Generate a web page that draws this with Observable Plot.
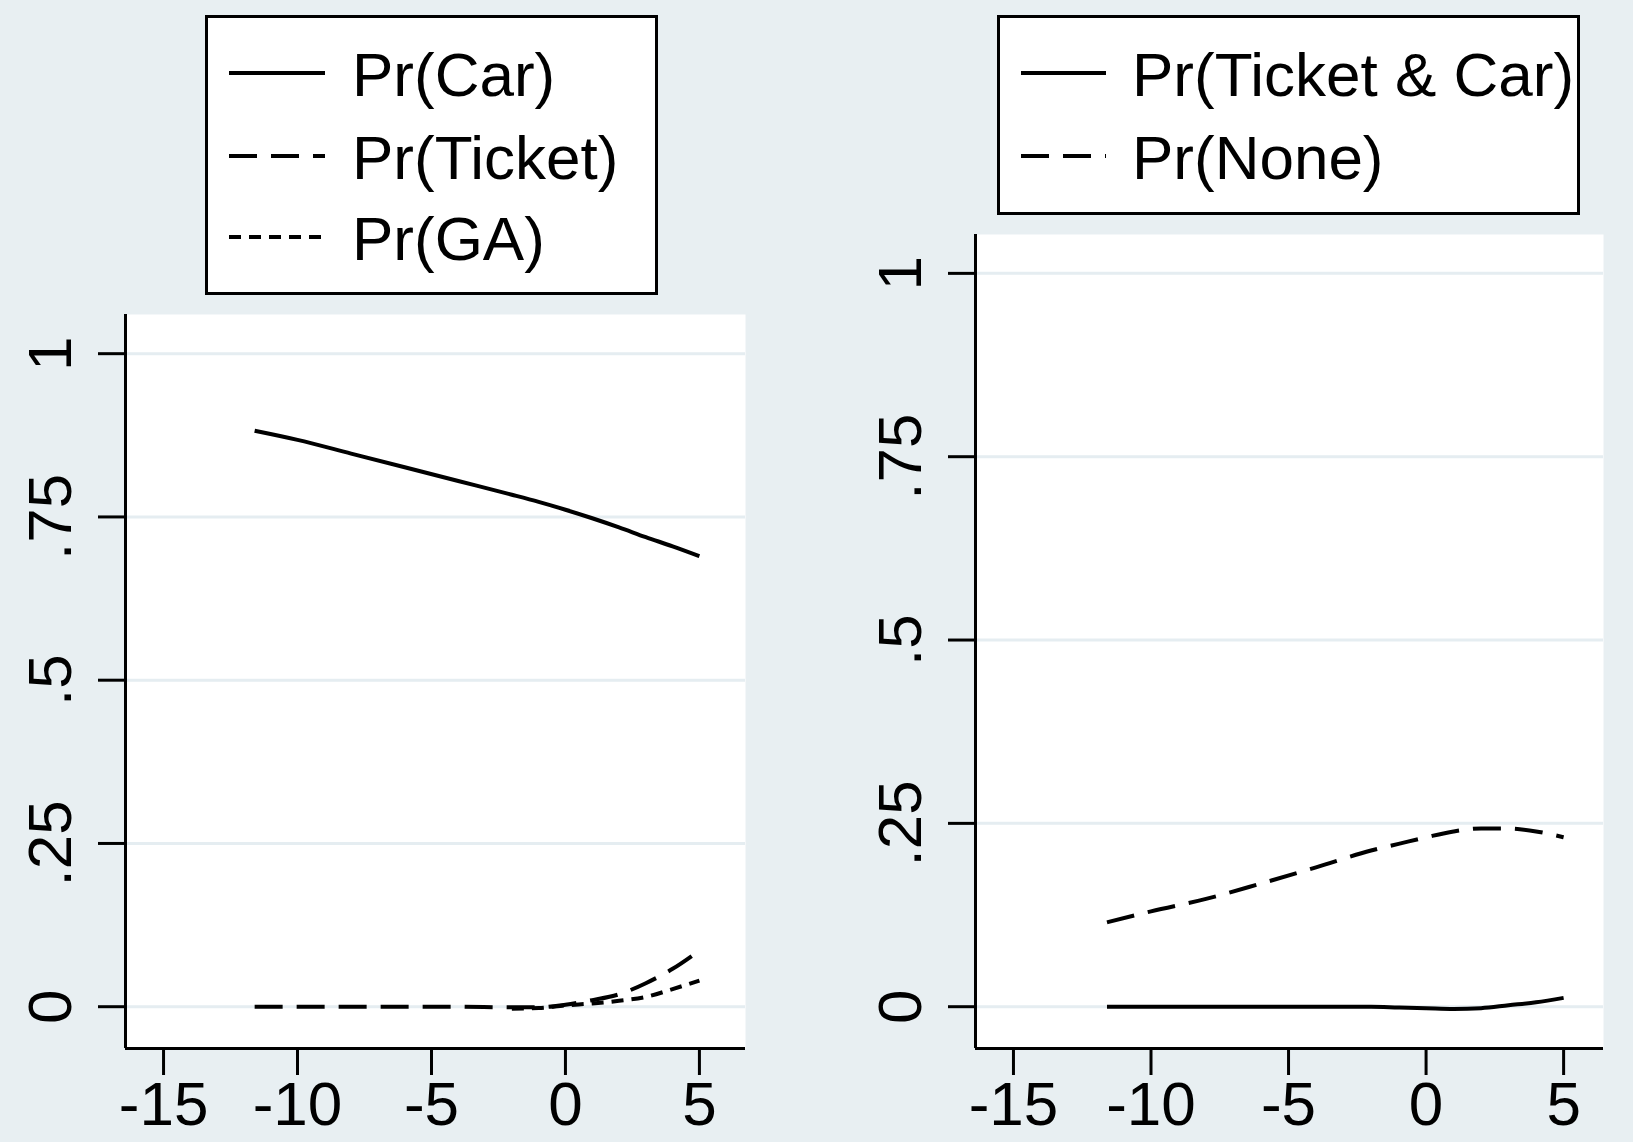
<!DOCTYPE html>
<html><head><meta charset="utf-8">
<script src="https://cdn.jsdelivr.net/npm/d3@7"></script>
<script src="https://cdn.jsdelivr.net/npm/@observablehq/plot@0.6"></script>
<style>
html,body{margin:0;padding:0;background:#e8eff2;}
#root{position:relative;width:1633px;height:1142px;background:#e8eff2;overflow:hidden;font-family:"Liberation Sans",Arial,sans-serif;}
.panel{position:absolute;}
.legend{position:absolute;}
</style></head><body><div id="root"></div>
<script>
// ---- data ----
const xValues      = [-11.6, -10, -8, -6, -4, -2, -1, 0, 1, 2, 3, 4, 5];
const prCar        = [0.882, 0.868, 0.847, 0.826, 0.805, 0.784, 0.773, 0.761, 0.748, 0.734, 0.719, 0.705, 0.690];
const prTicket     = [0, 0, 0, 0, 0, -0.001, -0.001, 0.003, 0.010, 0.019, 0.036, 0.058, 0.086];
const prGA         = [null, null, null, null, null, -0.003, -0.002, 0.002, 0.005, 0.009, 0.015, 0.027, 0.040];
const prTicketCar  = [0, 0, 0, 0, 0, 0, -0.001, -0.002, -0.003, -0.002, 0.002, 0.006, 0.012];
const prNone       = [0.115, 0.130, 0.147, 0.168, 0.190, 0.213, 0.222, 0.231, 0.239, 0.243, 0.243, 0.239, 0.231];
const leftNames    = ["Pr(Car)", "Pr(Ticket)", "Pr(GA)"];
const rightNames   = ["Pr(Ticket & Car)", "Pr(None)"];
const xTicks       = [-15, -10, -5, 0, 5];
const xTickLabels  = ["-15", "-10", "-5", "0", "5"];
const yTicks       = [0, 0.25, 0.5, 0.75, 1];
const yTickLabels  = ["0", ".25", ".5", ".75", "1"];

// ---- styling / layout ----
const gridColor = "#e5edf1";
const font = "'Liberation Sans', Arial, sans-serif";
const dashes = {"Pr(Car)": null, "Pr(Ticket)": "28,14", "Pr(GA)": "12,8", "Pr(Ticket & Car)": null, "Pr(None)": "28,14"};

function series(names, arrays) {
  return names.map((n, k) => xValues.map((x, i) => ({x, y: arrays[k][i], s: n})).filter(d => d.y != null));
}

function panel({names, arrays, xDomain, yDomain, width, height, margins}) {
  const data = series(names, arrays);
  return Plot.plot({
    width, height,
    marginLeft: margins[0], marginRight: margins[1], marginTop: margins[2], marginBottom: margins[3],
    style: {background: "transparent", color: "black", fontFamily: font, overflow: "visible"},
    x: {domain: xDomain, label: null},
    y: {domain: yDomain, label: null},
    marks: [
      Plot.frame({fill: "white", stroke: "none"}),
      Plot.ruleY(yTicks, {stroke: gridColor, strokeWidth: 3}),
      ...data.map((d, k) => Plot.line(d, {x: "x", y: "y", stroke: "black", strokeWidth: 4,
        strokeDasharray: dashes[names[k]], strokeLinecap: "butt", curve: "monotone-x"})),
      Plot.ruleX([xDomain[0]], {stroke: "black", strokeWidth: 3}),
      Plot.ruleY([yDomain[0]], {stroke: "black", strokeWidth: 3}),
      Plot.axisX(xTicks, {tickSize: 27, tickPadding: 5, fontSize: 62, strokeWidth: 3, label: null,
        tickFormat: d => xTickLabels[xTicks.indexOf(d)]}),
      Plot.axisY(yTicks, {tickSize: 27, tickPadding: 28, tickRotate: -90, fontSize: 62, strokeWidth: 3,
        label: null, tickFormat: d => yTickLabels[yTicks.indexOf(d)]})
    ]
  });
}

function legend(names, {left, top, width, height, lineX0, lineX1, textX, rowCenters}) {
  const ns = "http://www.w3.org/2000/svg";
  const svg = document.createElementNS(ns, "svg");
  svg.setAttribute("width", width); svg.setAttribute("height", height);
  svg.setAttribute("class", "legend");
  svg.style.left = left + "px"; svg.style.top = top + "px";
  const r = document.createElementNS(ns, "rect");
  r.setAttribute("x", 1.5); r.setAttribute("y", 1.5);
  r.setAttribute("width", width - 3); r.setAttribute("height", height - 3);
  r.setAttribute("fill", "white"); r.setAttribute("stroke", "black"); r.setAttribute("stroke-width", 3);
  svg.appendChild(r);
  names.forEach((n, i) => {
    const l = document.createElementNS(ns, "line");
    l.setAttribute("x1", lineX0); l.setAttribute("x2", lineX1);
    l.setAttribute("y1", rowCenters[i]); l.setAttribute("y2", rowCenters[i]);
    l.setAttribute("stroke", "black"); l.setAttribute("stroke-width", 4);
    if (dashes[n]) l.setAttribute("stroke-dasharray", dashes[n]);
    svg.appendChild(l);
    const t = document.createElementNS(ns, "text");
    t.setAttribute("x", textX); t.setAttribute("y", rowCenters[i] + 23);
    t.setAttribute("font-size", 62); t.setAttribute("font-family", font);
    t.textContent = n;
    svg.appendChild(t);
  });
  return svg;
}

const root = document.getElementById("root");

const left = panel({names: leftNames, arrays: [prCar, prTicket, prGA],
  xDomain: [-16.42, 6.72], yDomain: [-0.064, 1.060],
  width: 816, height: 842, margins: [125, 71, 14, 94]});
left.classList.add("panel"); left.style.left = "0px"; left.style.top = "300px";
root.appendChild(left);

const right = panel({names: rightNames, arrays: [prTicketCar, prNone],
  xDomain: [-16.38, 6.45], yDomain: [-0.057, 1.053],
  width: 817, height: 922, margins: [159, 30, 14, 94]});
right.classList.add("panel"); right.style.left = "816px"; right.style.top = "220px";
root.appendChild(right);

root.appendChild(legend(leftNames, {left: 205, top: 15, width: 453, height: 280,
  lineX0: 24, lineX1: 120, textX: 147, rowCenters: [58, 141, 222]}));
root.appendChild(legend(rightNames, {left: 997, top: 15, width: 583, height: 200,
  lineX0: 24, lineX1: 109, textX: 135, rowCenters: [58, 141]}));
</script></body></html>
